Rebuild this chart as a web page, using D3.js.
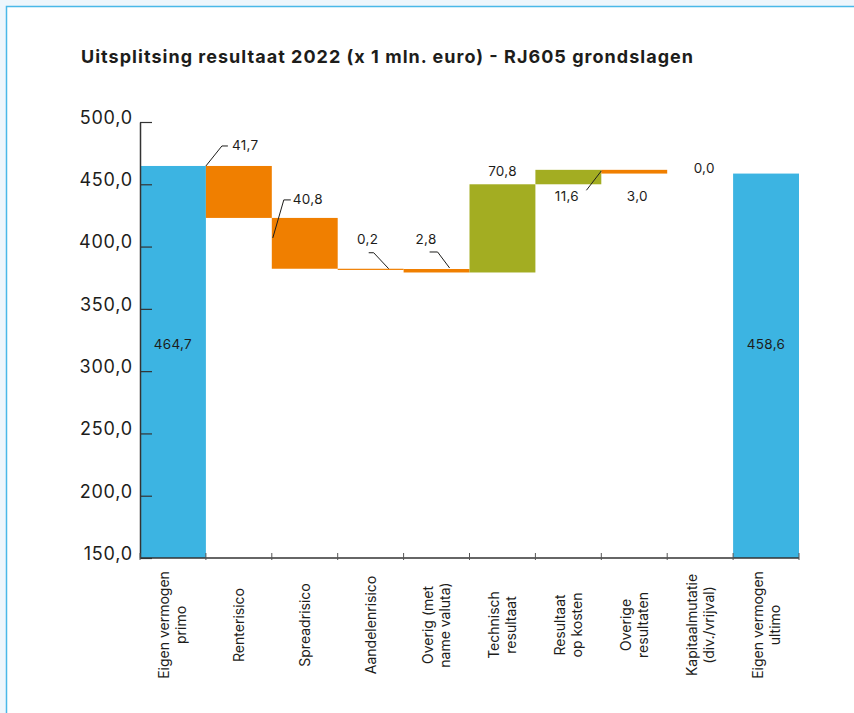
<!DOCTYPE html>
<html>
<head>
<meta charset="utf-8">
<script src="https://cdn.jsdelivr.net/npm/d3@7"></script>
<style>
  body { margin: 0; background: #eef6fc; }
  text { font-family: Inter, "Noto Sans", sans-serif; fill: #1d1d1b; }
</style>
</head>
<body>
<div id="container"></div>
<script>
  // data
  const categories = ['Eigen vermogen\nprimo', 'Renterisico', 'Spreadrisico', 'Aandelenrisico',
    'Overig (met\nname valuta)', 'Technisch\nresultaat', 'Resultaat\nop kosten', 'Overige\nresultaten',
    'Kapitaalmutatie\n(div./vrijval)', 'Eigen vermogen\nultimo']
  const values = [464.7, -41.7, -40.8, -0.2, -2.8, 70.8, 11.6, -3.0, 0.0, 458.6]
  const isTotal = [true, false, false, false, false, false, false, false, false, true]
  const yTicks = [150, 200, 250, 300, 350, 400, 450, 500]

  //initial setup
  const width = 854
  const height = 713
  const plotLeft = 140
  const plotRight = 799
  const plotTop = 122
  const plotBottom = 558

  const colors = { total: '#3cb4e2', neg: '#f07f00', pos: '#a3ad22' }
  const fmt = (v) => d3.format('.1f')(v).replace('.', ',')

  const svg = d3.select('#container')
    .append('svg')
    .attr('width', width)
    .attr('height', height)
    .style('display', 'block')

  // frame
  svg.append('rect')
    .attr('width', width).attr('height', height)
    .attr('fill', '#eef6fc')
  svg.append('rect')
    .attr('x', 6.5).attr('y', 6.5)
    .attr('width', width + 20).attr('height', height + 20)
    .attr('fill', '#fff')
    .attr('stroke', '#4ab8e8')
    .attr('stroke-width', 1.5)

  svg.append('text')
    .attr('x', 81)
    .attr('y', 63)
    .attr('textLength', 612)
    .attr('lengthAdjust', 'spacing')
    .style('font-size', '18px')
    .style('font-weight', 700)
    .text('Uitsplitsing resultaat 2022 (x 1 mln. euro) - RJ605 grondslagen')

  const xScale = d3.scaleBand()
    .domain(categories)
    .range([plotLeft, plotRight])
    .padding(0)

  const yScale = d3.scaleLinear()
    .domain([150, 500])
    .range([plotBottom, plotTop])

  // waterfall steps
  let run = 0
  const steps = values.map((v, i) => {
    let lo, hi, type
    if (isTotal[i]) {
      lo = yScale.domain()[0]; hi = v; run = v; type = 'total'
    } else {
      const from = run
      run = run + v
      lo = Math.min(from, run); hi = Math.max(from, run)
      type = v < 0 ? 'neg' : 'pos'
    }
    return { cat: categories[i], v, lo, hi, type, i }
  })

  const chart = svg.append('g')

  chart.selectAll('rect.bar')
    .data(steps.filter((s) => s.v !== 0))
    .enter()
    .append('rect')
    .attr('class', 'bar')
    .attr('x', (s) => xScale(s.cat))
    .attr('width', xScale.bandwidth())
    .attr('y', (s) => yScale(s.hi))
    .attr('height', (s) => Math.max(1.2, yScale(s.lo) - yScale(s.hi)))
    .attr('fill', (s) => colors[s.type])

  // y axis
  const yAxis = svg.append('g')
    .attr('transform', `translate(${plotLeft}, 0)`)
    .call(d3.axisRight(yScale)
      .tickValues(yTicks)
      .tickSize(12)
      .tickSizeOuter(0)
      .tickFormat(''))
  yAxis.select('.domain').attr('stroke', '#333').attr('stroke-width', 1.5)
  yAxis.selectAll('.tick line').attr('stroke', '#333').attr('stroke-width', 1.2)

  svg.append('g')
    .selectAll('text')
    .data(yTicks)
    .enter()
    .append('text')
    .attr('x', 133)
    .attr('y', (t) => yScale(t) - 3)
    .attr('text-anchor', 'end')
    .attr('dominant-baseline', 'middle')
    .style('font-size', '18px')
    .style('letter-spacing', '0.8px')
    .text((t) => fmt(t))

  // x axis line and boundary ticks
  svg.append('line')
    .attr('x1', plotLeft).attr('x2', plotRight)
    .attr('y1', plotBottom).attr('y2', plotBottom)
    .attr('stroke', '#333').attr('stroke-width', 1.5)

  svg.append('g')
    .selectAll('line')
    .data(categories.map((c) => xScale(c)).concat([plotRight]))
    .enter()
    .append('line')
    .attr('x1', (x) => x).attr('x2', (x) => x)
    .attr('y1', plotBottom - 5).attr('y2', plotBottom + 2)
    .attr('stroke', '#555').attr('stroke-width', 1)

  // category labels, rotated
  const catLabels = svg.append('g')
    .selectAll('text')
    .data(categories)
    .enter()
    .append('text')
    .attr('text-anchor', 'middle')
    .style('font-size', '14px')
    .attr('transform', (c) => `translate(${xScale(c) + xScale.bandwidth() / 2}, 625) rotate(-90)`)

  catLabels.each(function (c) {
    const lines = c.split('\n')
    const el = d3.select(this)
    lines.forEach((l, k) => {
      el.append('tspan')
        .attr('x', 0)
        .attr('y', (k - (lines.length - 1) / 2) * 17 + 5)
        .text(l)
    })
  })

  // value labels with leader lines (offsets relative to bar box)
  const labelCfg = [
    { dx: 0, dy: 0, anchor: 'middle', inside: true },
    { dx: 26, dy: -20, anchor: 'start', leader: [[0, 0, 'top'], [16, -20, 'top'], [22, -20, 'top']], yref: 'top' },
    { dx: 21, dy: -18, anchor: 'start', leader: [[1, 20, 'top'], [12, -18, 'top'], [19, -18, 'top']], yref: 'top' },
    { dx: 30, dy: -28, anchor: 'middle', leader: [[31, -16, 'top'], [36, -16, 'top'], [51, 0, 'top']], yref: 'top' },
    { dx: 22.5, dy: -29, anchor: 'middle', leader: [[26, -17, 'top'], [34, -17, 'top'], [46, -1, 'top']], yref: 'top' },
    { dx: 33, dy: -12, anchor: 'middle', yref: 'top' },
    { dx: 31.5, dy: 13, anchor: 'middle', leader: [[66, 1, 'top'], [51, 6, 'bot']], yref: 'bot' },
    { dx: 36, dy: 23.5, anchor: 'middle', yref: 'bot' },
    { dx: 37, dy: -4.5, anchor: 'middle', yref: 'top' },
    { dx: 0, dy: 0, anchor: 'middle', inside: true }
  ]

  const labels = svg.append('g')
  steps.forEach((s, i) => {
    const cfg = labelCfg[i]
    const x0 = xScale(s.cat)
    const yTop = yScale(s.hi)
    const yBot = yScale(s.lo)
    const yOf = (ref) => (ref === 'bot' ? yBot : yTop)
    let tx, ty
    if (cfg.inside) {
      tx = x0 + xScale.bandwidth() / 2
      ty = yScale(321)
    } else {
      tx = x0 + cfg.dx
      ty = yOf(cfg.yref) + cfg.dy
    }
    if (cfg.leader) {
      labels.append('path')
        .attr('d', d3.line()(cfg.leader.map((p) => [x0 + p[0], yOf(p[2]) + p[1]])))
        .attr('fill', 'none')
        .attr('stroke', '#1d1d1b')
        .attr('stroke-width', 1)
    }
    labels.append('text')
      .attr('x', tx)
      .attr('y', ty)
      .attr('text-anchor', cfg.anchor)
      .attr('dominant-baseline', 'middle')
      .style('font-size', '13.5px')
      .style('letter-spacing', '0.3px')
      .text(fmt(Math.abs(s.v)))
  })
</script>
</body>
</html>
